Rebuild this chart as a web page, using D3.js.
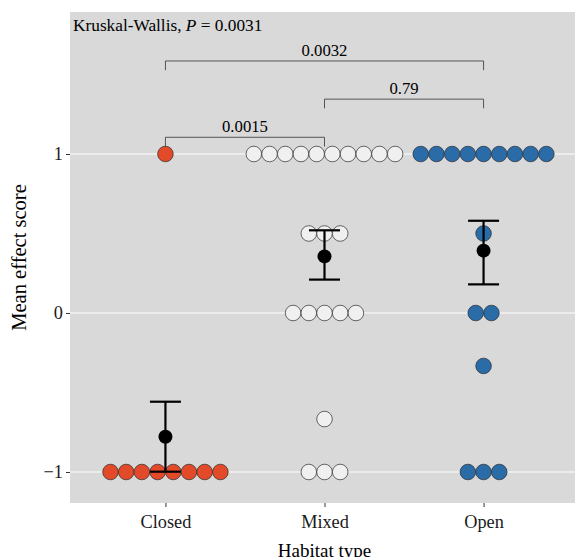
<!DOCTYPE html>
<html>
<head>
<meta charset="utf-8">
<script src="https://cdn.jsdelivr.net/npm/d3@7"></script>
<style>
  html, body { margin: 0; padding: 0; background: #ffffff; }
  svg { display: block; }
  svg text { font-family: "Liberation Serif", "DejaVu Serif", serif; }
</style>
</head>
<body>
<svg id="chart" width="575" height="557"></svg>
<script>
// ---- data ----
const categories = ["Closed", "Mixed", "Open"];
const closedValues = [1, -1, -1, -1, -1, -1, -1, -1, -1];
const mixedValues = [1, 1, 1, 1, 1, 1, 1, 1, 1, 1, 0.5, 0.5, 0.5, 0, 0, 0, 0, 0, -0.667, -1, -1, -1];
const openValues = [1, 1, 1, 1, 1, 1, 1, 1, 1, 0.5, 0, 0, -0.333, -1, -1, -1];
const groupValues = [closedValues, mixedValues, openValues];
const groupColors = ["#E24A2A", "#F0F0F0", "#2A6CA8"];
const meanValues = [-0.778, 0.356, 0.392];
const errLow = [-0.998, 0.21, 0.18];
const errHigh = [-0.558, 0.52, 0.58];
const yTicks = [-1, 0, 1];
const yTickLabels = ["\u22121", "0", "1"];
const comparisons = [
  { from: "Closed", to: "Mixed", y: 1.105, label: "0.0015" },
  { from: "Mixed", to: "Open", y: 1.345, label: "0.79" },
  { from: "Closed", to: "Open", y: 1.585, label: "0.0032" }
];
const testLabel = "Kruskal-Wallis, ";
const testP = "0.0031";
const xTitle = "Habitat type";
const yTitle = "Mean effect score";

// ---- layout ----
const FONT = "'Liberation Serif', 'DejaVu Serif', serif";
const panel = { left: 70, top: 12, right: 579, bottom: 503 };
const svg = d3.select("#chart");

const xIndex = d3.scaleLinear().domain([0.4, 3.6]).range([panel.left, panel.right]);
const x = c => xIndex(categories.indexOf(c) + 1);
const y = d3.scaleLinear().domain([-1.195, 1.893]).range([panel.bottom, panel.top]);

// panel background
svg.append("rect")
  .attr("x", panel.left).attr("y", panel.top)
  .attr("width", panel.right - panel.left).attr("height", panel.bottom - panel.top)
  .attr("fill", "#D9D9D9");

// gridlines
svg.append("g").selectAll("line").data(yTicks).join("line")
  .attr("x1", panel.left).attr("x2", panel.right)
  .attr("y1", d => y(d)).attr("y2", d => y(d))
  .attr("stroke", "#ffffff").attr("stroke-width", 1.1);

// axes
const yAxis = d3.axisLeft(y).tickValues(yTicks)
  .tickFormat(d => yTickLabels[yTicks.indexOf(d)])
  .tickSize(4).tickPadding(3);
const gy = svg.append("g").attr("transform", `translate(${panel.left},0)`).call(yAxis)
  .attr("font-family", FONT).attr("font-size", 18.3);
gy.select(".domain").remove();
gy.selectAll(".tick line").attr("stroke", "#333333").attr("stroke-width", 1);
gy.selectAll(".tick text").attr("fill", "#1a1a1a").attr("font-family", FONT).attr("font-size", 18.3);

const xAxis = d3.axisBottom(xIndex).tickValues([1, 2, 3])
  .tickFormat(d => categories[d - 1]).tickSize(4).tickPadding(8);
const gx = svg.append("g").attr("transform", `translate(0,${panel.bottom})`).call(xAxis)
  .attr("font-family", FONT).attr("font-size", 18.3);
gx.select(".domain").remove();
gx.selectAll(".tick line").attr("stroke", "#333333").attr("stroke-width", 1);
gx.selectAll(".tick text").attr("fill", "#1a1a1a").attr("font-family", FONT).attr("font-size", 18.3);

// axis titles
svg.append("text").attr("x", xIndex(2)).attr("y", 556.5)
  .attr("text-anchor", "middle").attr("font-family", FONT).attr("font-size", 19).attr("fill", "#000")
  .text(xTitle);
svg.append("text")
  .attr("transform", `translate(25.5,${(panel.top + panel.bottom) / 2}) rotate(-90)`)
  .attr("text-anchor", "middle").attr("font-family", FONT).attr("font-size", 20.5).attr("fill", "#000")
  .text(yTitle);

// dots (centered stacks)
const dotStep = 15.7;
const dotR = 7.8;
const dotsG = svg.append("g");
groupValues.forEach((vals, gi) => {
  const counts = d3.rollup(vals, v => v.length, d => d);
  const dots = [];
  counts.forEach((n, v) => {
    for (let i = 0; i < n; i++) dots.push({ v, off: (i - (n - 1) / 2) * dotStep });
  });
  dotsG.selectAll(null).data(dots).join("circle")
    .attr("cx", d => xIndex(gi + 1) + d.off)
    .attr("cy", d => y(d.v))
    .attr("r", dotR)
    .attr("fill", groupColors[gi])
    .attr("stroke", "#2b2b2b").attr("stroke-width", 0.7);
});

// error bars and means
const capHalf = 15.5;
const eb = svg.append("g");
categories.forEach((c, i) => {
  const cx = x(c);
  eb.append("line").attr("x1", cx).attr("x2", cx)
    .attr("y1", y(errLow[i])).attr("y2", y(errHigh[i]))
    .attr("stroke", "#000").attr("stroke-width", 2.2);
  [errLow[i], errHigh[i]].forEach(v => {
    eb.append("line").attr("x1", cx - capHalf).attr("x2", cx + capHalf)
      .attr("y1", y(v)).attr("y2", y(v))
      .attr("stroke", "#000").attr("stroke-width", 2.2);
  });
  eb.append("circle").attr("cx", cx).attr("cy", y(meanValues[i])).attr("r", 7).attr("fill", "#000");
});

// comparison brackets
const br = svg.append("g");
const tickDrop = 0.058;
comparisons.forEach(cmp => {
  const x1 = x(cmp.from), x2 = x(cmp.to);
  br.append("path")
    .attr("d", `M${x1},${y(cmp.y - tickDrop)}V${y(cmp.y)}H${x2}V${y(cmp.y - tickDrop)}`)
    .attr("fill", "none").attr("stroke", "#333333").attr("stroke-width", 0.8);
  br.append("text").attr("x", (x1 + x2) / 2).attr("y", y(cmp.y) - 5)
    .attr("text-anchor", "middle").attr("font-family", FONT).attr("font-size", 16.7).attr("fill", "#000")
    .text(cmp.label);
});

// Kruskal-Wallis label
const kw = svg.append("text").attr("x", 73).attr("y", 30.5)
  .attr("font-family", FONT).attr("font-size", 17.3).attr("fill", "#000");
kw.append("tspan").text(testLabel);
kw.append("tspan").attr("font-style", "italic").text("P");
kw.append("tspan").text(" = " + testP);
</script>
</body>
</html>
